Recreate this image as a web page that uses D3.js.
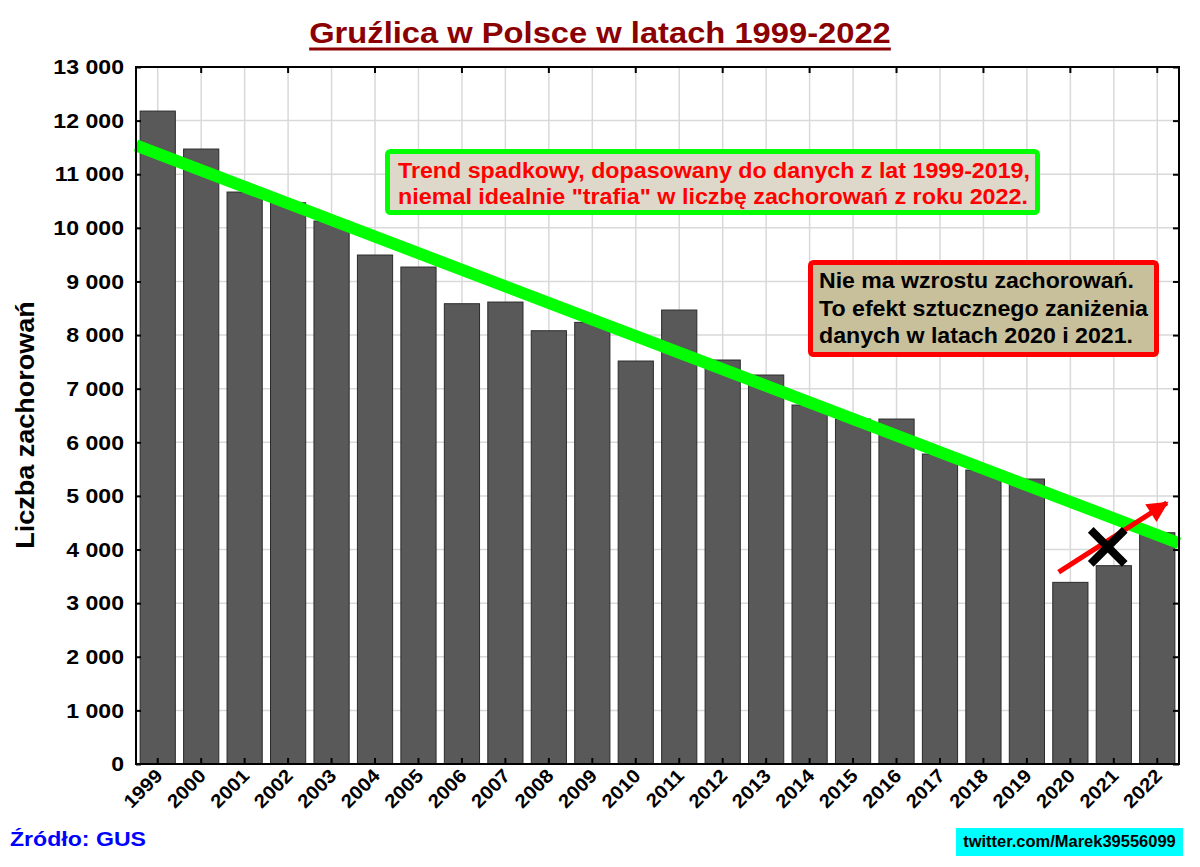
<!DOCTYPE html>
<html>
<head>
<meta charset="utf-8">
<script src="https://cdn.jsdelivr.net/npm/d3@7"></script>
<style>
  body{margin:0;background:#fff;}
  svg{display:block;font-family:"Liberation Sans",Arial,sans-serif;font-weight:bold;}
</style>
</head>
<body>
<div id="chart"></div>
<script>
// dane: GUS, liczba zachorowań na gruźlicę
const years = ['1999','2000','2001','2002','2003','2004','2005','2006','2007','2008','2009','2010',
               '2011','2012','2013','2014','2015','2016','2017','2018','2019','2020','2021','2022']
const cases = [12178,11470,10668,10468,10127,9493,9269,8585,8616,8081,8237,7516,
               8467,7535,7255,6695,6434,6434,5781,5483,5315,3388,3699,4314]
const yTicks = [0,1000,2000,3000,4000,5000,6000,7000,8000,9000,10000,11000,12000,13000]
// lata do dopasowania trendu
const trendYears = years.slice(0, years.indexOf('2019') + 1)

const titleText = 'Gruźlica w Polsce w latach 1999-2022'
const note1 = ['Trend spadkowy, dopasowany do danych z lat 1999-2019,',
               'niemal idealnie "trafia" w liczbę zachorowań z roku 2022.']
const note2 = ['Nie ma wzrostu zachorowań.',
               'To efekt sztucznego zaniżenia',
               'danych w latach 2020 i 2021.']

const W = 1200, H = 867
const m = {left:136, right:21, top:67, bottom:103}

const svg = d3.select('#chart').append('svg').attr('width',W).attr('height',H)

// tekst w oryginale jest troche szerszy niz Liberation Sans
const stretch = (sel,k)=>sel.each(function(){
    const w = this.getComputedTextLength()
    d3.select(this).attr('textLength',w*k).attr('lengthAdjust','spacingAndGlyphs')
})
const fitTo = (sel,widths)=>sel.attr('textLength',(d,i)=>widths[i]).attr('lengthAdjust','spacingAndGlyphs')

const x = d3.scaleBand().domain(years).range([m.left, W-m.right]).paddingInner(0.19).paddingOuter(0.095)
const y = d3.scaleLinear().domain([0,13000]).range([H-m.bottom, m.top])
const step = x.step()
const cx = yr => x(yr) + x.bandwidth()/2

// siatka
const grid = svg.append('g')
grid.selectAll('line.h').data(yTicks).join('line')
    .attr('x1',m.left).attr('x2',W-m.right)
    .attr('y1',d=>y(d)).attr('y2',d=>y(d))
    .attr('stroke','#d9d9d9').attr('stroke-width',1.5)
grid.selectAll('line.v').data(years).join('line')
    .attr('x1',d=>cx(d)).attr('x2',d=>cx(d))
    .attr('y1',m.top).attr('y2',H-m.bottom)
    .attr('stroke','#d9d9d9').attr('stroke-width',1.5)

// słupki
svg.append('g').selectAll('rect').data(years).join('rect')
    .attr('x',d=>x(d)).attr('width',x.bandwidth())
    .attr('y',(d,i)=>y(cases[i])).attr('height',(d,i)=>y(0)-y(cases[i]))
    .attr('fill','#595959').attr('stroke','#2b2b2b').attr('stroke-width',1)

// linia trendu (regresja liniowa 1999-2019)
const tx = trendYears.map((d,i)=>i), tv = trendYears.map((d,i)=>cases[i])
const mx = d3.mean(tx), mv = d3.mean(tv)
const slope = d3.sum(tx,(d,i)=>(d-mx)*(tv[i]-mv)) / d3.sum(tx,d=>(d-mx)*(d-mx))
const icpt = mv - slope*mx
const idxToX = d3.scaleLinear().domain([0, years.length-1]).range([cx(years[0]), cx(years[years.length-1])])
const xl0 = m.left, xl1 = W-m.right
svg.append('line')
    .attr('x1',xl0).attr('y1',y(icpt + slope*idxToX.invert(xl0)))
    .attr('x2',xl1).attr('y2',y(icpt + slope*idxToX.invert(xl1)))
    .attr('stroke','#00ff00').attr('stroke-width',12)

// ramka i osie
const axL = d3.axisLeft(y).tickValues(yTicks).tickSize(-5).tickPadding(12)
    .tickFormat(d=>d3.format(',')(d).replace(',', ' '))
const gL = svg.append('g').attr('transform',`translate(${m.left},0)`).call(axL)
gL.selectAll('text').attr('font-size',21).attr('font-weight','bold').attr('fill','#000').call(stretch,1.1)
gL.select('.domain').remove()

const axR = d3.axisRight(y).tickValues(yTicks).tickSize(-6).tickFormat('')
const gR = svg.append('g').attr('transform',`translate(${W-m.right},0)`).call(axR)
gR.select('.domain').remove()

const axT = d3.axisTop(x).tickValues(years.filter((d,i)=>i%2===1)).tickSize(-6).tickFormat('')
const gT = svg.append('g').attr('transform',`translate(0,${m.top})`).call(axT)
gT.select('.domain').remove()

const axB = d3.axisBottom(x).tickSize(-6).tickPadding(0)
const gB = svg.append('g').attr('transform',`translate(0,${H-m.bottom})`).call(axB)
gB.select('.domain').remove()
gB.selectAll('text').attr('font-size',19).attr('font-weight','bold').attr('fill','#000')
    .attr('text-anchor','end').attr('dy',null).attr('y',0)
    .attr('transform','translate(6,13) rotate(-45)').call(stretch,1.08)
svg.selectAll('.tick line').attr('stroke','#000').attr('stroke-width',2)

svg.append('rect').attr('x',m.left).attr('y',m.top)
    .attr('width',W-m.left-m.right).attr('height',H-m.top-m.bottom)
    .attr('fill','none').attr('stroke','#000').attr('stroke-width',2)

// tytuł
const title = svg.append('text').attr('x',600).attr('y',43).attr('text-anchor','middle')
    .attr('font-size',30).attr('fill','#8b0000').text(titleText).call(stretch,1.09)
const tw = +title.attr('textLength')
svg.append('line').attr('x1',600-tw/2).attr('x2',600+tw/2).attr('y1',49).attr('y2',49)
    .attr('stroke','#8b0000').attr('stroke-width',3)

// etykieta osi Y
svg.append('text').attr('transform','translate(34,425) rotate(-90)').attr('text-anchor','middle')
    .attr('font-size',25).attr('fill','#000').text('Liczba zachorowań').call(stretch,1.08)

// ramka 1
svg.append('rect').attr('x',387.5).attr('y',151.5).attr('width',650).attr('height',61).attr('rx',3)
    .attr('fill','#ddd8c9').attr('stroke','#00ff00').attr('stroke-width',5)
svg.append('g').selectAll('text').data(note1).join('text')
    .attr('x',398).attr('y',(d,i)=>178+i*26).attr('font-size',22).attr('fill','#ff0000').text(d=>d)
    .call(fitTo,[632,630])

// ramka 2
svg.append('rect').attr('x',810.5).attr('y',262.5).attr('width',346).attr('height',92).attr('rx',3)
    .attr('fill','#c8bf9b').attr('stroke','#ff0000').attr('stroke-width',5)
svg.append('g').selectAll('text').data(note2).join('text')
    .attr('x',819).attr('y',(d,i)=>288+i*27.5).attr('font-size',22).attr('fill','#000').text(d=>d)
    .call(fitTo,[315,329,314])

// strzałka i krzyżyk
const defs = svg.append('defs')
defs.append('marker').attr('id','ah').attr('viewBox','0 0 10 10').attr('refX',9).attr('refY',5)
    .attr('markerWidth',5).attr('markerHeight',4.2).attr('orient','auto').attr('markerUnits','strokeWidth')
    .append('path').attr('d','M0,0L10,5L0,10Z').attr('fill','#ff0000')
const a0 = {yr:'2020', off:-0.27, v:3580}, a1 = {yr:'2022', off:0.22, v:4870}
svg.append('line')
    .attr('x1',cx(a0.yr)+a0.off*step).attr('y1',y(a0.v))
    .attr('x2',cx(a1.yr)+a1.off*step).attr('y2',y(a1.v))
    .attr('stroke','#ff0000').attr('stroke-width',5).attr('marker-end','url(#ah)')
const crossX = cx('2021') - 0.14*step, crossY = y(4050)
svg.append('path')
    .attr('d',`M${crossX-17},${crossY-17}L${crossX+17},${crossY+17}M${crossX+17},${crossY-17}L${crossX-17},${crossY+17}`)
    .attr('stroke','#000').attr('stroke-width',8)

// źródło
svg.append('text').attr('x',10).attr('y',846).attr('font-size',21).attr('fill','#0000ff').text('Źródło: GUS')
    .call(stretch,1.1)
svg.append('rect').attr('x',956).attr('y',828).attr('width',227).attr('height',28).attr('fill','#00ffff')
svg.append('text').attr('x',1069.5).attr('y',847).attr('text-anchor','middle')
    .attr('font-size',16).attr('fill','#000').text('twitter.com/Marek39556099').call(stretch,1.03)
</script>
</body>
</html>
